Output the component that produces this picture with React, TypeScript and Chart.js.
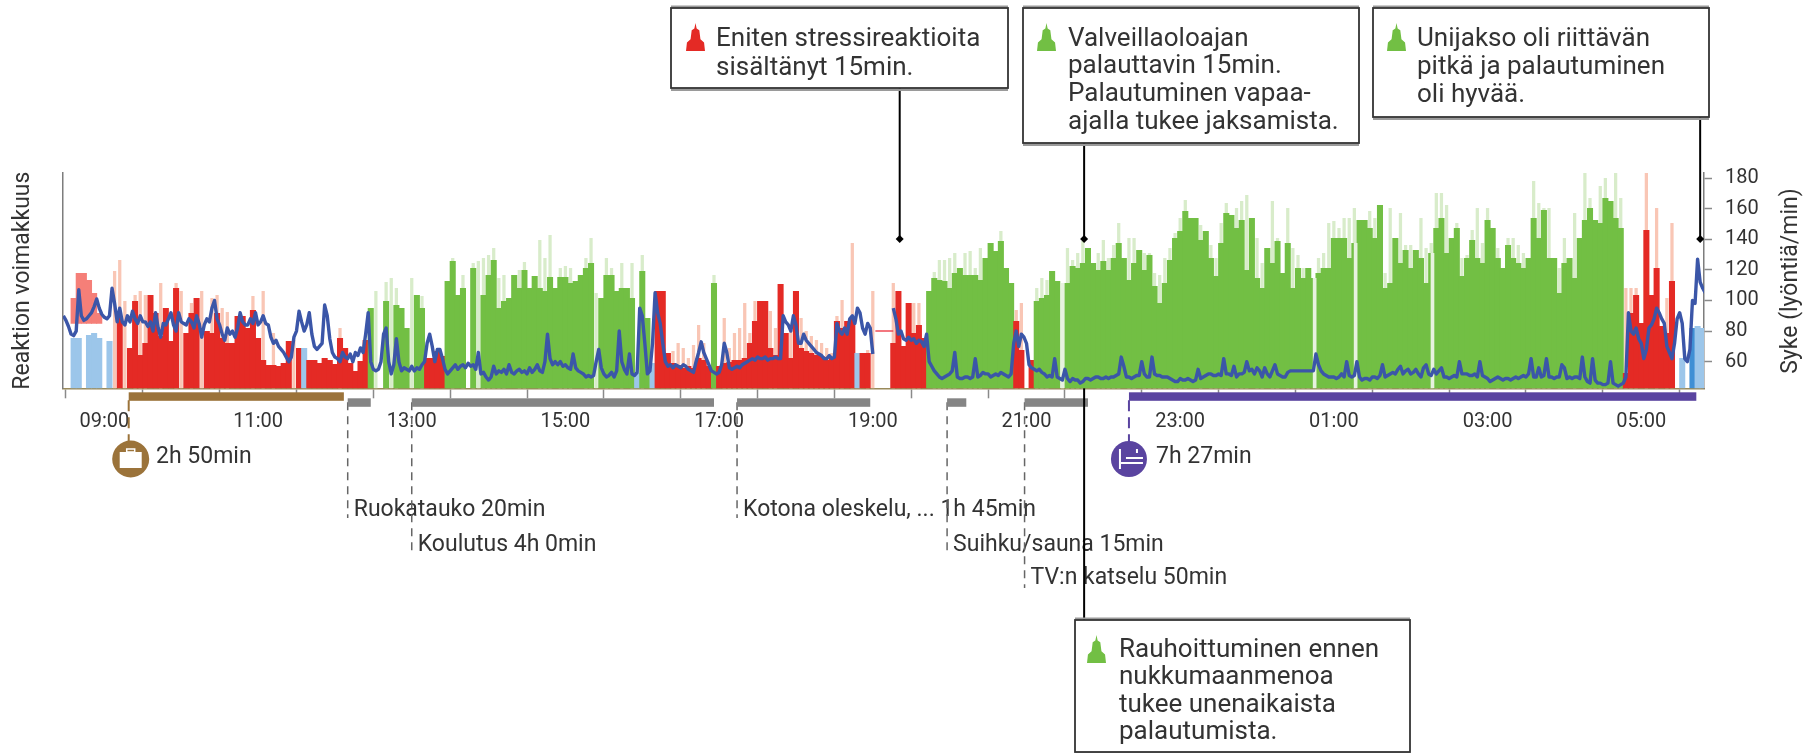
import React, { useEffect, useRef } from "react";
import { Chart, registerables } from "chart.js";

Chart.register(...registerables);

// Time axis: minutes from midnight of the first day.
const axisStart = 507.7;
const axisEnd = 1789;
const reactionStart = 508;
const reactionStep = 4;
const hrStep = 2;

const reactionTypes = [
  "--BB-BBB-B", "RRRRRRRRRR", "RRRRRRRRRR", "RRRRRRRRRR", "RRRRRRRBRR", "RRRRRRRRRR",
  "GG-GGGGGGG", "GRRRRGGGG-", "GGGGGGGGGG", "GGGGGGGGGG", "GGGGGGGGGG", "GGBGGBRRRR",
  "RRRRRRRGRR", "RRRRRRRRRR", "RRRRRRRRRR", "RRRRRBRRRR", "RRRRRRRRRG", "GGGGGGGGGG",
  "GGGGGGRR-R", "GGGGGGGGGG", "GGGGGGGGGG", "GGGGGGGGGG", "GGGGGGGGGG", "GGGGGGGGGG",
  "GGGGGGGGGG", "GGGGGGGGGG", "GGGGGGGGGG", "GGGGGGGGGG", "GGGGGGGGGG", "GGGGGGGGGG",
  "GGGGGRRRRR", "RRRRR-B-DB", "B",
].join("");

const reactionHeight = [
  0,0,50,50,0,53,55,50,0,47,
  0,72,0,40,87,33,45,93,75,52,
  80,47,100,0,55,75,90,0,57,55,
  75,50,45,45,72,72,60,78,50,28,
  23,23,22,25,47,0,40,40,28,28,
  25,30,28,24,50,40,25,17,27,48,
  80,0,0,87,0,83,80,60,0,93,
  80,30,30,37,32,107,127,93,100,0,
  120,0,93,113,128,80,87,90,113,100,
  118,100,112,100,97,111,100,111,111,105,
  107,113,120,125,0,90,113,113,97,100,
  100,90,15,117,70,25,97,97,35,25,
  23,20,22,20,30,28,22,105,22,25,
  26,28,28,30,45,67,87,87,40,33,
  104,55,30,97,40,37,35,33,32,28,
  30,67,60,67,70,35,35,35,0,0,
  0,0,45,97,42,85,55,63,50,97,
  110,108,107,100,115,120,113,113,113,108,
  130,145,137,147,120,105,67,38,0,28,
  87,90,93,117,107,0,105,122,120,125,
  140,125,118,127,118,130,145,130,108,125,
  138,118,133,102,85,105,128,150,157,177,
  170,170,148,157,130,112,145,175,173,160,
  168,118,170,110,100,140,125,147,115,145,
  100,120,110,120,110,115,120,120,150,150,
  150,130,145,168,168,160,150,183,100,105,
  150,125,138,120,138,130,105,135,160,170,
  135,150,160,112,130,148,130,125,168,160,
  130,120,143,130,125,120,130,170,150,178,
  130,130,95,125,130,110,150,168,180,168,
  165,190,187,170,160,15,75,93,65,158,
  93,120,62,55,107,0,30,0,60,62,
  60,
];

const reactionPeak = [
  0,0,0,0,0,0,0,0,0,0,
  117,128,87,0,93,97,93,0,0,105,
  0,0,105,97,0,85,0,97,0,90,
  93,80,76,0,0,0,0,92,0,97,
  0,55,0,0,0,48,0,0,0,0,
  0,0,0,0,60,0,0,0,0,0,
  0,97,0,106,110,100,0,0,110,0,
  92,0,0,0,0,0,130,0,113,0,
  125,127,130,133,140,110,113,0,0,118,
  126,0,0,148,130,153,0,120,122,120,
  0,0,130,150,95,0,130,120,0,125,
  0,125,0,133,0,0,0,0,0,37,
  45,40,30,43,63,45,0,113,0,70,
  40,55,60,85,55,87,0,0,77,60,
  0,0,60,0,70,57,52,48,45,40,
  35,72,88,0,145,0,0,38,97,0,
  0,0,105,0,0,0,85,85,0,0,
  116,128,128,130,135,0,135,137,120,140,
  0,0,0,157,0,0,78,85,0,0,
  100,110,108,0,0,105,140,128,135,147,
  0,0,135,148,130,143,165,0,150,150,
  0,135,135,115,113,130,140,155,170,188,
  0,0,163,0,143,130,165,185,0,180,
  187,193,0,150,125,0,187,150,0,180,
  140,133,120,120,0,130,135,165,167,160,
  170,170,180,0,0,177,170,0,115,180,
  0,175,143,143,0,170,140,145,195,195,
  183,0,165,130,133,158,180,145,180,0,
  140,0,150,150,143,135,0,207,185,180,
  180,0,120,150,0,175,0,215,190,167,
  202,210,0,215,190,100,100,100,0,215,
  0,180,0,90,165,0,0,0,0,0,
  0,
];

// Early morning floating pink part, at reaction bars 2..7.
const pinkIndex = [2, 3, 4, 5, 6, 7];
const pinkTop = [90, 115, 115, 108, 95, 75];
const pinkBottom = [65, 65, 65, 65, 65, 65];

// Thin pale strips that cut through the green bars.
const stripMinutes = [1288, 1485, 1517, 1577];
const stripHeights = [105, 110, 145, 135];

const hrMorningStart = 508;
const hrMorning = [
  90,87,83,78,77,80,107,90,87,88,
  90,92,96,101,95,91,89,88,90,108,
  98,86,95,86,84,90,86,93,88,85,
  90,86,86,83,86,80,92,82,76,85,
  84,88,92,84,80,92,86,85,84,88,
  86,82,90,85,76,84,88,86,95,100,
  88,84,78,74,82,78,80,76,82,92,
  86,84,84,88,85,92,84,86,90,85,
  84,76,72,74,70,68,66,63,60,63,
  76,80,93,86,80,84,92,78,70,68,
  70,72,97,90,75,66,63,62,
];
const hrMiddayStart = 724;
const hrMidday = [
  60,66,63,62,65,60,66,64,69,66,
  78,92,60,55,54,55,60,78,82,60,
  52,58,75,60,54,56,55,54,57,54,
  56,55,58,60,72,78,70,60,68,68,
  62,55,52,54,56,58,55,57,58,56,
  59,57,58,55,66,52,53,50,48,50,
  57,52,54,53,55,52,58,53,52,54,
  55,53,54,52,56,53,55,58,54,53,
  60,78,62,58,60,58,60,57,58,56,
  55,65,56,54,53,52,50,51,50,51,
  60,68,56,52,50,51,53,50,54,80,
];
const hrAfternoonStart = 944;
const hrAfternoon = [
  60,55,52,65,52,51,53,95,90,72,
  52,54,72,105,92,85,72,60,57,58,
  56,58,57,56,58,57,55,54,53,60,
  66,73,66,62,58,54,53,52,53,58,
  72,66,56,55,56,57,56,58,59,60,
  61,62,61,63,62,62,63,61,62,62,
  63,62,62,90,86,84,80,90,84,72,
  72,78,74,72,70,68,66,65,64,62,
  62,64,62,63,85,80,78,82,78,88,
  90,85,95,92,82,78,85,82,65,
  null,null,null,null,null,null,null,
  95,88,78,
];
const hrEveningStart = 1162;
const hrEvening = [
  80,75,74,76,74,75,72,74,73,70,
  78,60,57,54,52,50,49,50,51,52,
  54,66,50,49,49,50,50,49,50,62,
  50,51,53,52,52,50,51,52,51,53,
  52,51,50,52,72,80,70,78,76,72,
  58,56,55,54,55,53,52,50,51,50,
  62,50,49,48,55,49,47,49,48,48,
  46,47,49,49,48,49,50,50,49,49,
  50,49,50,50,51,52,63,57,50,50,
  49,50,51,51,60,52,50,50,63,52,
  51,51,50,50,50,49,48,47,47,
];
const hrNightStart = 1380;
const hrNight = [
  49,48,48,49,48,47,48,55,49,50,
  51,52,52,51,51,52,51,62,52,52,
  51,57,50,52,52,53,60,54,55,52,
  56,54,50,56,52,50,54,58,52,51,
  50,50,53,54,54,54,54,54,54,54,
  54,54,54,65,58,54,52,51,50,50,
  50,49,50,52,50,60,51,50,51,60,
  50,48,49,49,48,50,50,49,51,58,
  50,51,52,53,52,55,57,52,54,55,
  52,53,55,52,50,56,58,52,51,55,
  52,54,
];
const hrMorning2Start = 1584;
const hrMorning2 = [
  56,50,50,49,50,51,50,60,52,52,
  52,51,51,52,50,60,51,50,49,47,
  48,49,50,49,48,49,49,48,49,50,
  49,50,51,50,52,62,50,50,56,50,
  51,62,50,50,49,50,50,58,56,49,
  50,49,50,50,49,63,50,47,46,62,
  48,46,46,45,45,46,60,46,45,44,
  45,46,50,92,80,78,82,75,72,62,
  68,82,84,88,95,92,88,85,70,66,
  62,72,88,92,85,62,60,68,100,98,
  127,112,108,105,
];
const hrGapMinutes = [1142, 1156];
const hrGapValues = [80, 80];

const activities = [
  { start: 559, end: 727, color: "#9b733a", row: "upper", label: "", labelRow: 0 },
  { start: 730, end: 748, color: "#858585", row: "lower", label: "Ruokatauko 20min", labelRow: 1 },
  { start: 780, end: 1016, color: "#858585", row: "lower", label: "Koulutus 4h 0min", labelRow: 2 },
  { start: 1034, end: 1138, color: "#858585", row: "lower", label: "Kotona oleskelu, ... 1h 45min", labelRow: 1 },
  { start: 1198, end: 1213, color: "#858585", row: "lower", label: "Suihku/sauna 15min", labelRow: 2 },
  { start: 1258.5, end: 1308, color: "#858585", row: "lower", label: "TV:n katselu 50min", labelRow: 3 },
  { start: 1340, end: 1783, color: "#5a44a0", row: "upper", label: "", labelRow: 0 },
];

const callouts = [
  { lines: ["Eniten stressireaktioita", "sisältänyt 15min."], color: "#e42a25", box: [671, 8, 337, 80], textX: 716, firstY: 39, step: 29, peakX: 686, minute: 1161 },
  { lines: ["Valveillaoloajan", "palauttavin 15min.", "Palautuminen vapaa-", "ajalla tukee jaksamista."], color: "#72bf44", box: [1023, 8, 336, 135], textX: 1068, firstY: 39, step: 27.7, peakX: 1037, minute: 1305 },
  { lines: ["Unijakso oli riittävän", "pitkä ja palautuminen", "oli hyvää."], color: "#72bf44", box: [1373, 8, 336, 109], textX: 1417, firstY: 39, step: 28, peakX: 1387, minute: 1786 },
  { lines: ["Rauhoittuminen ennen", "nukkumaanmenoa", "tukee unenaikaista", "palautumista."], color: "#72bf44", box: [1075, 620, 335, 132], textX: 1119, firstY: 650, step: 27.5, peakX: 1087, minute: 1305 },
];

const colorFor: Record<string, string> = { R: "#e42a25", G: "#72bf44", B: "#9cc6ea", D: "#3f8fd4", "-": "rgba(0,0,0,0)" };
const peakColorFor: Record<string, string> = { R: "#f9c6b5", G: "#d8ecca", B: "#dbeaf7", D: "#dbeaf7", "-": "rgba(0,0,0,0)" };

function hrPoints() {
  const out: { x: number; y: number | null }[] = [];
  const add = (start: number, vals: (number | null)[]) => vals.forEach((v, i) => out.push({ x: start + hrStep * i, y: v }));
  add(hrMorningStart, hrMorning);
  add(hrMiddayStart, hrMidday);
  add(hrAfternoonStart, hrAfternoon);
  add(hrEveningStart, hrEvening);
  add(hrNightStart, hrNight);
  add(hrMorning2Start, hrMorning2);
  return out;
}

function peakIcon(ctx: CanvasRenderingContext2D, x: number, y: number, w: number, h: number, color: string) {
  const pts = [[0, 1], [0.05, 0.7], [0.24, 0.58], [0.3, 0.26], [0.44, 0.2], [0.5, 0], [0.56, 0.2], [0.7, 0.26], [0.76, 0.58], [0.95, 0.7], [1, 1]];
  ctx.fillStyle = color;
  ctx.beginPath();
  pts.forEach(([a, b], i) => (i ? ctx.lineTo(x + a * w, y + b * h) : ctx.moveTo(x + a * w, y + b * h)));
  ctx.closePath();
  ctx.fill();
}

const overlay = {
  id: "overlay",
  afterDraw(chart: any) {
    const { ctx, scales } = chart;
    const X = (t: number) => scales.x.getPixelForValue(t);
    const bottom = chart.chartArea.bottom;
    const labelY = [0, 510, 545, 578];
    const lineEnd = [0, 518, 552, 588];
    const text = "#333";
    ctx.save();
    ctx.textBaseline = "middle";

    // dashed drop lines and their labels
    ctx.font = "23px Roboto";
    activities.forEach((a) => {
      if (!a.label) return;
      const x = X(a.start);
      ctx.strokeStyle = "#666";
      ctx.lineWidth = 1.5;
      ctx.setLineDash([8, 6]);
      ctx.beginPath();
      ctx.moveTo(x, bottom + 14);
      ctx.lineTo(x, lineEnd[a.labelRow]);
      ctx.stroke();
      ctx.setLineDash([]);
      ctx.fillStyle = text;
      ctx.textAlign = "left";
      ctx.fillText(a.label, x + 6, labelY[a.labelRow]);
    });

    // activity bars
    activities.forEach((a) => {
      const top = a.row === "upper" ? bottom + 4 : bottom + 10;
      ctx.fillStyle = a.color;
      ctx.fillRect(X(a.start), top, X(a.end) - X(a.start), 8.5);
    });

    // work and sleep markers
    const work = X(activities[0].start);
    const sleep = X(activities[6].start);
    ctx.lineWidth = 2;
    ctx.setLineDash([11, 6]);
    ctx.strokeStyle = activities[0].color;
    ctx.beginPath(); ctx.moveTo(work, bottom + 12); ctx.lineTo(work, 444); ctx.stroke();
    ctx.strokeStyle = activities[6].color;
    ctx.beginPath(); ctx.moveTo(sleep, bottom + 12); ctx.lineTo(sleep, 444); ctx.stroke();
    ctx.setLineDash([]);

    ctx.fillStyle = activities[0].color;
    ctx.beginPath(); ctx.arc(work + 2, 459, 18.5, 0, Math.PI * 2); ctx.fill();
    ctx.fillStyle = "#fff";
    ctx.fillRect(work - 9, 452, 22, 16);
    ctx.strokeStyle = "#fff"; ctx.lineWidth = 1.5;
    ctx.strokeRect(work - 2, 449, 8, 3);

    ctx.fillStyle = activities[6].color;
    ctx.beginPath(); ctx.arc(sleep, 459, 18, 0, Math.PI * 2); ctx.fill();
    ctx.fillStyle = "#fff";
    ctx.fillRect(sleep - 10, 449, 2, 20);
    ctx.fillRect(sleep - 8, 462, 22, 2);
    ctx.fillRect(sleep - 3, 457, 17, 2);
    ctx.fillRect(sleep + 7, 449, 2, 4);

    ctx.fillStyle = text;
    ctx.font = "23px Roboto";
    ctx.textAlign = "left";
    ctx.fillText("2h 50min", 156, 457);
    ctx.fillText("7h 27min", 1156, 457);

    // callouts
    callouts.forEach((c) => {
      const [bx, by, bw, bh] = c.box;
      const x = X(c.minute);
      ctx.strokeStyle = "#000";
      ctx.lineWidth = 2;
      ctx.beginPath();
      if (by < 300) {
        ctx.moveTo(x, by + bh);
        ctx.lineTo(x, 239);
        ctx.stroke();
        ctx.fillStyle = "#000";
        ctx.beginPath();
        ctx.moveTo(x, 235); ctx.lineTo(x + 4, 239); ctx.lineTo(x, 243); ctx.lineTo(x - 4, 239);
        ctx.closePath();
        ctx.fill();
      } else {
        ctx.moveTo(x, bottom);
        ctx.lineTo(x, by);
        ctx.stroke();
      }
      ctx.fillStyle = "#fff";
      ctx.fillRect(bx, by, bw, bh);
      ctx.fillStyle = "#9a9a9a";
      ctx.fillRect(bx, by - 2.5, bw, 2);
      ctx.fillRect(bx, by + bh + 0.5, bw, 2.5);
      ctx.strokeStyle = "#333";
      ctx.lineWidth = 1.8;
      ctx.strokeRect(bx, by, bw, bh);
      peakIcon(ctx, c.peakX, by + 15, 19, 28, c.color);
      ctx.fillStyle = text;
      ctx.font = "26px Roboto";
      ctx.textAlign = "left";
      c.lines.forEach((l, i) => ctx.fillText(l, c.textX, c.firstY + i * c.step));
    });

    // right axis title
    ctx.save();
    ctx.translate(1791, 281);
    ctx.rotate(-Math.PI / 2);
    ctx.textAlign = "center";
    ctx.fillStyle = text;
    ctx.font = "23px Roboto";
    ctx.fillText("Syke (lyöntiä/min)", 0, 0);
    ctx.restore();
    ctx.restore();
  },
};

export default function App() {
  const ref = useRef<HTMLCanvasElement>(null);
  useEffect(() => {
    if (!ref.current) return;
    const barX = (i: number) => reactionStart + reactionStep * i;
    const solid = reactionHeight.map((h, i) => ({ x: barX(i), y: h, t: reactionTypes[i] })).filter((p) => p.y > 0);
    const peak = reactionPeak.map((h, i) => ({ x: barX(i), y: h, t: reactionTypes[i] })).filter((p) => p.y > 0);
    const chart = new Chart(ref.current, {
      type: "bar",
      data: {
        datasets: [
          {
            type: "bar",
            label: "peak",
            data: peak as any,
            yAxisID: "yR",
            grouped: false,
            order: 6,
            barThickness: 2.6,
            backgroundColor: peak.map((p) => peakColorFor[p.t]),
          } as any,
          {
            type: "bar",
            label: "pink",
            data: pinkIndex.map((k, i) => ({ x: barX(k), y: [pinkBottom[i], pinkTop[i]] })) as any,
            yAxisID: "yR",
            grouped: false,
            order: 5,
            barThickness: 5.4,
            backgroundColor: "#f57f78",
          } as any,
          {
            type: "bar",
            label: "reaction",
            data: solid as any,
            yAxisID: "yR",
            grouped: false,
            order: 4,
            barThickness: 5.4,
            backgroundColor: solid.map((p) => colorFor[p.t]),
          } as any,
          {
            type: "bar",
            label: "strip",
            data: stripMinutes.map((m, i) => ({ x: m, y: stripHeights[i] })) as any,
            yAxisID: "yR",
            grouped: false,
            order: 3,
            barThickness: 3,
            backgroundColor: "#e7f2df",
          } as any,
          {
            type: "line",
            label: "gap",
            data: hrGapMinutes.map((m, i) => ({ x: m, y: hrGapValues[i] })) as any,
            yAxisID: "yH",
            order: 2,
            borderColor: "#ef4a55",
            borderWidth: 1.5,
            pointRadius: 0,
          } as any,
          {
            type: "line",
            label: "Syke",
            data: hrPoints() as any,
            yAxisID: "yH",
            order: 1,
            borderColor: "#3b56a8",
            borderWidth: 3.4,
            borderJoinStyle: "round",
            pointRadius: 0,
            tension: 0,
            spanGaps: false,
          } as any,
        ],
      },
      options: {
        responsive: false,
        animation: false,
        parsing: { xAxisKey: "x", yAxisKey: "y" } as any,
        layout: { padding: { top: 173, left: 0, right: 0, bottom: 0 } },
        plugins: { legend: { display: false }, tooltip: { enabled: false } },
        scales: {
          x: {
            type: "linear",
            min: axisStart,
            max: axisEnd,
            offset: false,
            afterFit: (s: any) => { s.height = 753 - 388.3; },
            border: { display: true, color: "#9a8a5a", width: 1.5 },
            grid: { display: true, drawOnChartArea: false, drawTicks: true, tickLength: 10, tickColor: "#8a8a8a", tickWidth: 1.5 },
            ticks: {
              stepSize: 60,
              includeBounds: false,
              autoSkip: false,
              maxRotation: 0,
              padding: 12,
              color: "#333",
              font: { family: "Roboto", size: 20 },
              callback: (v: any) => {
                const h = Math.round(Number(v) / 60) % 24;
                return h % 2 === 1 ? `${String(h).padStart(2, "0")}:00` : "";
              },
            },
          } as any,
          yR: {
            type: "linear",
            position: "left",
            min: 0,
            max: 215.3,
            afterFit: (s: any) => { s.width = 63; },
            border: { display: true, color: "#7d7d7d", width: 1.5 },
            grid: { display: false },
            ticks: { display: false },
            title: { display: true, text: "Reaktion voimakkuus", color: "#333", font: { family: "Roboto", size: 23 }, padding: { top: 9, bottom: 0 } },
          } as any,
          yH: {
            type: "linear",
            position: "right",
            min: 42.6,
            max: 183.3,
            afterFit: (s: any) => { s.width = 1817 - 1704; },
            border: { display: true, color: "#7d7d7d", width: 1.5 },
            grid: { display: true, drawOnChartArea: false, drawTicks: true, tickLength: 8, tickColor: "#8a8a8a", tickWidth: 1.5 },
            ticks: { stepSize: 20, includeBounds: false, padding: 13, color: "#333", font: { family: "Roboto", size: 20 } },
          } as any,
        },
      },
      plugins: [overlay as any],
    } as any);
    return () => chart.destroy();
  }, []);
  return (
    <div style={{ position: "fixed", left: 0, top: 0, width: 1817, height: 753, background: "#fff" }}>
      <canvas ref={ref} width={1817} height={753} style={{ display: "block" }} />
    </div>
  );
}
